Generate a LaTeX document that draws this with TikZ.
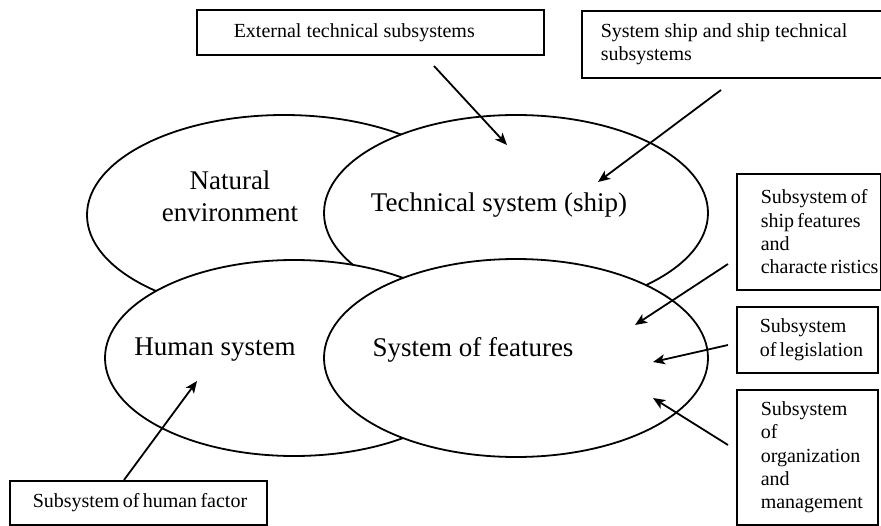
\documentclass[tikz,border=0pt]{standalone}
\usepackage{fontspec}
\setmainfont{Liberation Serif}
\usetikzlibrary{shapes.geometric, arrows.meta}

\newcommand{\boxtextfont}{\fontsize{20}{23.3}\selectfont\hyphenpenalty=10000\exhyphenpenalty=10000}
\newcommand{\systextfont}{\fontsize{27}{32}\selectfont}

\begin{document}
\begin{tikzpicture}[x=1pt, y=-1pt,
	sys/.style={shape=ellipse, draw=black, fill=white, line width=1.8pt, inner sep=0pt},
	syslabel/.style={font=\systextfont, align=center, inner sep=0pt},
	sub/.style={shape=rectangle, draw=black, line width=1.5pt, anchor=north west, align=flush left, inner ysep=0pt, font=\boxtextfont},
	feed/.style={-{Stealth[length=12pt,width=10pt,inset=3pt]}, line width=1.8pt}]
	\useasboundingbox (0,0) rectangle (881,525);

	\node[sys, minimum width=394pt, minimum height=200pt] (nat) at (284, 215) {};
	\node[sys, minimum width=384pt, minimum height=196pt] (tech) at (516, 213) {};
	\node[sys, minimum width=378pt, minimum height=196pt] (hum) at (294, 358) {};
	\node[sys, minimum width=384pt, minimum height=198pt] (feat) at (516, 358) {};

	\node[syslabel] (natl) at (230, 196) {Natural\\environment};
	\node[syslabel] (techl) at (499, 205) {Technical system (ship)};
	\node[syslabel] (huml) at (215, 350) {Human system};
	\node[syslabel] (featl) at (473, 350) {System of features};

	\node[sub, inner xsep=37pt, text width=273pt, minimum height=45pt] (ext) at (196, 9) {External technical subsystems};
	\node[sub, inner xsep=19pt, text width=265pt, minimum height=67pt] (shipsub) at (581, 10) {System ship and ship technical\\subsystems};
	\node[sub, inner xsep=24pt, text width=96pt, minimum height=116pt] (shipfeat) at (736, 173) {Subsystem~of\\ship~features\\and\\characte~ristics};
	\node[sub, inner xsep=23pt, text width=95pt, minimum height=66pt] (legis) at (736, 306) {Subsystem\\of~legislation};
	\node[sub, inner xsep=24pt, text width=93pt, minimum height=135pt] (orgman) at (736, 389) {Subsystem\\of\\organization\\and\\management};
	\node[sub, inner xsep=23pt, text width=211pt, minimum height=44pt] (humfac) at (9, 480) {Subsystem~of~human~factor};

	\coordinate (e1) at (434, 66);   \coordinate (f1) at (507, 145);
	\coordinate (e2) at (721, 90);   \coordinate (f2) at (598, 182);
	\coordinate (e3) at (728, 264);  \coordinate (f3) at (635, 325);
	\coordinate (e4) at (728, 345);  \coordinate (f4) at (653, 362);
	\coordinate (e5) at (728, 445);  \coordinate (f5) at (653, 398);
	\coordinate (e6) at (124, 480);  \coordinate (f6) at (197, 381);

	\path [feed] (e1) edge (f1);
	\path [feed] (e2) edge (f2);
	\path [feed] (e3) edge (f3);
	\path [feed] (e4) edge (f4);
	\path [feed] (e5) edge (f5);
	\path [feed] (e6) edge (f6);
\end{tikzpicture}
\end{document}
